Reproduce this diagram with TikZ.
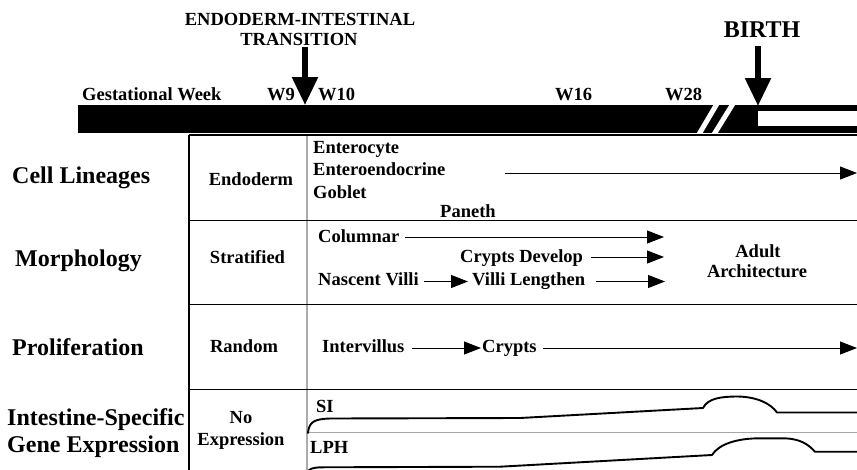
\documentclass[tikz,border=0pt]{standalone}
\usepackage{fontspec}
\setmainfont{Liberation Serif}
\usetikzlibrary{arrows.meta}
\tikzset{
  txt/.style={inner sep=0pt, font=\bfseries\fontsize{18.5}{20}\selectfont},
  big/.style={inner sep=0pt, font=\bfseries\fontsize{24}{26}\selectfont},
  rowline/.style={line width=1.3pt},
  thickrow/.style={line width=1.9pt},
  garrow/.style={line width=0.9pt, -{Triangle[length=17pt,width=13pt]}},
  bigarrow/.style={line width=5.5pt, -{Triangle[length=28pt,width=25pt]}},
  curve/.style={line width=1.9pt, line cap=round, line join=round},
}
\begin{document}
\begin{tikzpicture}[x=1pt,y=-1pt]
\useasboundingbox (0,0) rectangle (857,469);
\fill[white] (0,0) rectangle (857,469);

% timeline bar
\fill[black] (78,105) rectangle (858,133);
\draw[white, line width=5pt] (718,102) -- (698,136);
\draw[white, line width=5pt] (734,102) -- (713,136);
\fill[white] (758,111) rectangle (858,126);

% timeline labels
\node[txt, anchor=base west] (gw) at (82,100) {Gestational Week};
\node[txt, anchor=base west] (w9) at (267,100) {W9};
\node[txt, anchor=base west] (w10) at (318,100) {W10};
\node[txt, anchor=base west] (w16) at (555,100) {W16};
\node[txt, anchor=base west] (w28) at (665,100) {W28};

% transition arrow
\node[txt, anchor=base] (edt1) at (300,25) {ENDODERM-INTESTINAL};
\node[txt, anchor=base] (edt2) at (299,45) {TRANSITION};
\coordinate (trtip) at (305,105);
\draw[bigarrow] (305,47) -- (trtip);

% birth arrow
\node[big, anchor=base] (birth) at (762,37) {BIRTH};
\coordinate (btip) at (758,106);
\draw[bigarrow] (758,46) -- (btip);

% table grid
\draw[rowline] (189,135) -- (858,135);
\draw[rowline] (189,135) -- (189,470);
\draw[line width=2pt, gray!65] (306.5,136) -- (306.5,470);
\draw[rowline] (189,220.5) -- (858,220.5);
\draw[thickrow] (189,304.5) -- (858,304.5);
\draw[rowline] (189,389.5) -- (858,389.5);
\draw[line width=0.8pt, gray!70] (307,432) -- (858,432);

% left labels
\node[big, anchor=base west] (cl) at (12,183) {Cell Lineages};
\node[big, anchor=base west] (mo) at (15,266) {Morphology};
\node[big, anchor=base west] (pr) at (12,355) {Proliferation};
\node[big, anchor=base west] (is) at (7,425) {Intestine-Specific};
\node[big, anchor=base west] (ge) at (7,452) {Gene Expression};

% first column
\node[txt, anchor=base] (endo) at (251,185) {Endoderm};
\node[txt, anchor=base] (strat) at (247.5,263) {Stratified};
\node[txt, anchor=base] (rand) at (244,352) {Random};
\node[txt, anchor=base] (no) at (241,423) {No};
\node[txt, anchor=base] (expr) at (241,445) {Expression};

% cell lineages
\node[txt, anchor=base west] (ent) at (313,153) {Enterocyte};
\node[txt, anchor=base west] (eed) at (313,175) {Enteroendocrine};
\node[txt, anchor=base west] (gob) at (313,198) {Goblet};
\node[txt, anchor=base west] (pan) at (440,217) {Paneth};
\coordinate (cla) at (505,173);
\coordinate (clb) at (857,173);
\draw[garrow] (cla) -- (clb);

% morphology
\node[txt, anchor=base west] (col) at (318,242) {Columnar};
\node[txt, anchor=base west] (cry) at (460,262) {Crypts Develop};
\node[txt, anchor=base west] (nas) at (318,285) {Nascent Villi};
\node[txt, anchor=base west] (vil) at (472,285) {Villi Lengthen};
\node[txt, anchor=base] (adu) at (758,257) {Adult};
\node[txt, anchor=base] (arc) at (757,277) {Architecture};
\coordinate (cole) at (664,237);
\coordinate (crye) at (664,257);
\coordinate (vile) at (665,281.5);
\draw[garrow] (col.east |- cole) ++(5,0) -- (cole);
\draw[garrow] (cry.east |- crye) ++(8,0) -- (crye);
\draw[garrow] (vil.east |- vile) ++(11,0) -- (vile);
\draw[garrow] ([xshift=5pt]nas.east |- vile) -- ([xshift=-4pt]vil.west |- vile);

% proliferation
\node[txt, anchor=base west] (int) at (322,352) {Intervillus};
\node[txt, anchor=base west] (cr2) at (482,352) {Crypts};
\coordinate (cr2e) at (857,348);
\draw[garrow] ([xshift=7pt]int.east |- cr2e) -- ([xshift=-1pt]cr2.west |- cr2e);
\draw[garrow] ([xshift=6pt]cr2.east |- cr2e) -- (cr2e);

% gene expression
\node[txt, anchor=base west] (si) at (316,412) {SI};
\node[txt, anchor=base west] (lph) at (310,453) {LPH};
\draw[curve] (308,433) .. controls (309,422) and (314,419) .. (330,418.5)
  -- (520,418) -- (703,408)
  .. controls (708,398) and (722,396.5) .. (738,396.5)
  .. controls (758,397) and (771,404) .. (777,412.5) -- (858,412.5);
\draw[curve] (308,472) .. controls (309,469) and (312,467.5) .. (322,467.3)
  -- (500,466.7) -- (712,455)
  .. controls (719,444) and (737,438.3) .. (760,438.3)
  -- (785,438.3) .. controls (800,439) and (808,444) .. (815,451.7) -- (858,451.7);
\end{tikzpicture}
\end{document}
